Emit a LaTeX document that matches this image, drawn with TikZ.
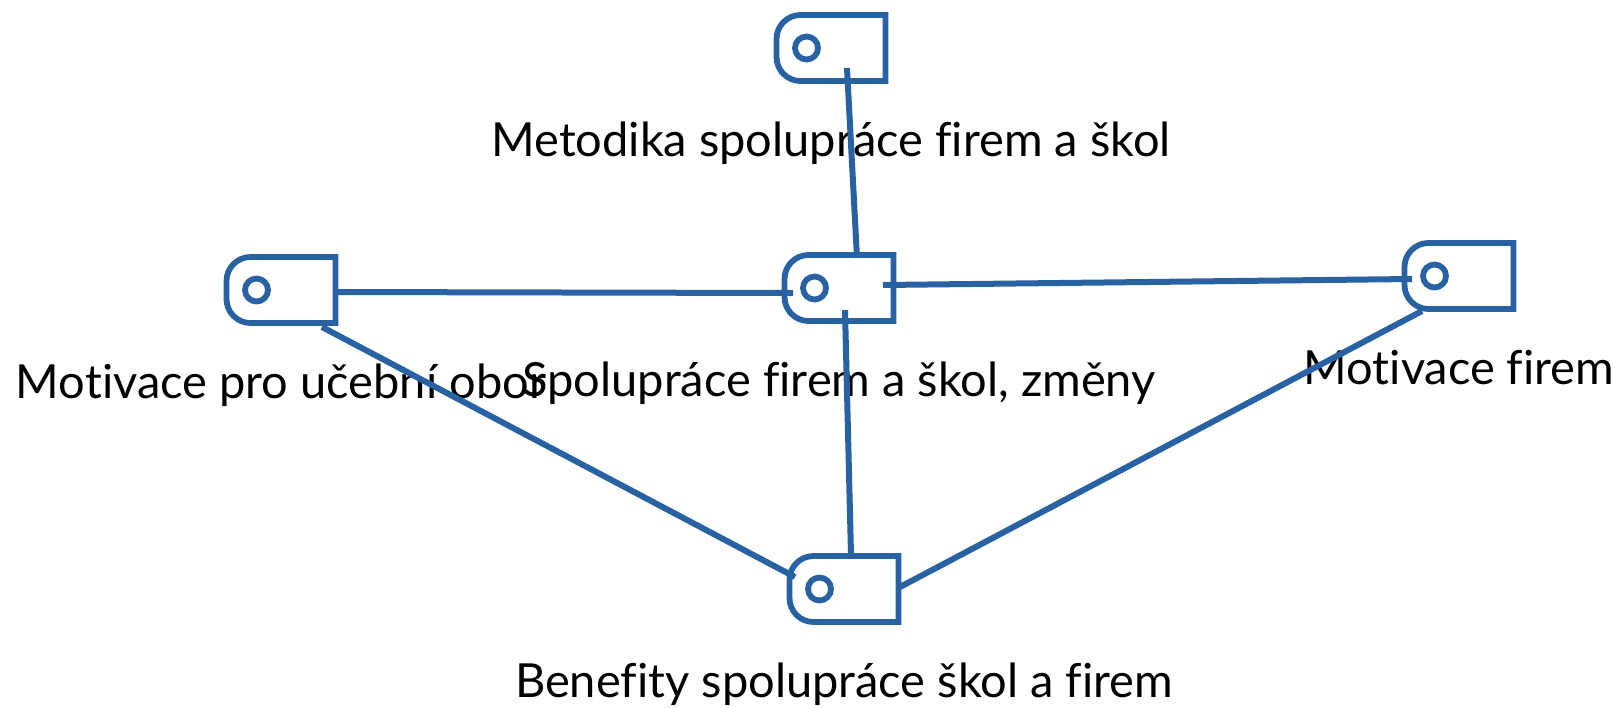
\documentclass[tikz,border=0pt]{standalone}
\usepackage{fontspec}
\setmainfont{Lato}[Ligatures=NoCommon]
\usepackage{tikz}
\definecolor{tagblue}{RGB}{40,98,163}
\def\tagr{12pt}
\tikzstyle{tagbox}=[inner sep=0pt,outer sep=0pt,minimum width=54.5pt,minimum height=33pt]
\tikzstyle{tagline}=[draw=tagblue,line width=2.9pt]
\tikzstyle{tagring}=[circle,draw=tagblue,line width=2.9pt,inner sep=0pt,minimum size=11.5pt]
\tikzstyle{taglabel}=[anchor=base,inner sep=0pt,font=\fontsize{23.5}{28}\selectfont]
\tikzstyle{link}=[draw=tagblue,line width=3pt]
\newcommand{\newTag}[3]{%
  \node[tagbox] (#1) at (#2) {};
  \draw[tagline] (#1.north east) -- (#1.south east)
    -- ([xshift=\tagr]#1.south west) arc[start angle=270,end angle=180,radius=\tagr]
    -- ([yshift=-\tagr]#1.north west) arc[start angle=180,end angle=90,radius=\tagr]
    -- cycle;
  \node[tagring] (#1-o) at ([xshift=15pt]#1.west) {};
  \node[taglabel] (#1-t) at ([yshift=-54pt]#1.center) {#3};}
\newcommand{\newLink}[4]{\path[link] ([shift={#2}]#1.center) -- ([shift={#4}]#3.center);}

\begin{document}
\begin{tikzpicture}[x=0.5pt,y=-0.5pt]
    \useasboundingbox (0,0) rectangle (1616,707);
    \newTag{T}{831,48}{Metodika spolupráce firem a škol}
    \newTag{L}{281,290}{Motivace pro učební obor}
    \newTag{C}{839,288}{Spolupráce firem a škol, změny}
    \newTag{R}{1459,276}{Motivace firem}
    \newTag{B}{844,589}{Benefity spolupráce škol a firem}
    \newLink{T}{(16,20)}{C}{(18,-30)}
    \newLink{L}{(55,2)}{C}{(-46,5)}
    \newLink{C}{(44,-3)}{R}{(-47,3)}
    \newLink{C}{(6,22)}{B}{(7,-34)}
    \newLink{L}{(41,37)}{B}{(-49,-12)}
    \newLink{R}{(-37,35)}{B}{(56,-2)}
\end{tikzpicture}
\end{document}
